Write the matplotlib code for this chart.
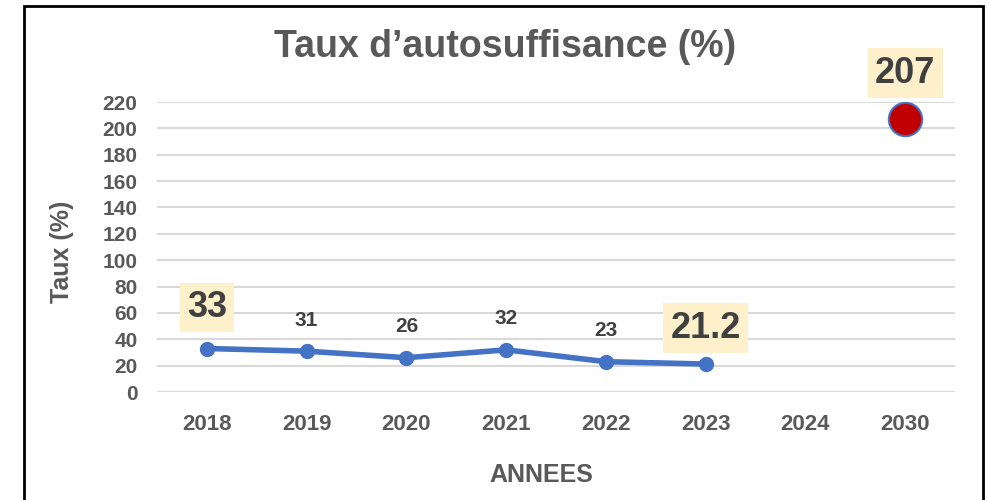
import matplotlib
matplotlib.use("Agg")
import matplotlib.pyplot as plt
from matplotlib.patches import Rectangle

categories = ["2018", "2019", "2020", "2021", "2022", "2023", "2024", "2030"]
hist_years = ["2018", "2019", "2020", "2021", "2022", "2023"]
hist_values = [33, 31, 26, 32, 23, 21.2]
target_year = "2030"
target_value = 207
hist_labels = ["33", "31", "26", "32", "23", "21.2"]
highlight = [True, False, False, False, False, True]
yticks = list(range(0, 221, 20))

FONT = ["Liberation Sans Narrow", "Liberation Sans", "DejaVu Sans"]
plt.rcParams["font.family"] = FONT
GREY = "#595959"
DARK = "#404040"
BOXC = "#FFF0CC"

fig = plt.figure(figsize=(9.89, 5.0), dpi=100)
ax = fig.add_axes([157/989, 1-392/500, (955-157)/989, 290/500])
ax.set_xlim(-0.5, len(categories)-0.5)
ax.set_ylim(0, 220)

xpos = {c: i for i, c in enumerate(categories)}
hx = [xpos[y] for y in hist_years]
ax.plot(hx, hist_values, color="#4472C4", lw=4, marker="o", ms=10, zorder=3,
        solid_capstyle="round")
ax.plot([xpos[target_year]], [target_value], marker="o", ms=24, color="#C00000",
        markeredgecolor="#4472C4", markeredgewidth=1.5, ls="none", zorder=4)

for x, v, lab, h in zip(hx, hist_values, hist_labels, highlight):
    if h:
        ax.annotate(lab, (x, v), xytext=(0, 41 if lab == "33" else 36), textcoords="offset pixels",
                    ha="center", va="center", fontsize=26, fontweight="bold", color=DARK,
                    bbox=dict(boxstyle="square,pad=0.2", fc=BOXC, ec="none"), zorder=5)
    else:
        ax.annotate(lab, (x, v), xytext=(0, 31), textcoords="offset pixels",
                    ha="center", va="center", fontsize=15, fontweight="bold", color=DARK, zorder=5)
ax.annotate(str(target_value), (xpos[target_year], target_value), xytext=(0, 46),
            textcoords="offset pixels", ha="center", va="center", fontsize=26,
            fontweight="bold", color=DARK,
            bbox=dict(boxstyle="square,pad=0.2", fc=BOXC, ec="none"), zorder=5,
            annotation_clip=False)

ax.set_yticks(yticks)
ax.set_xticks(range(len(categories)))
ax.set_xticklabels(categories)
ax.grid(axis="y", color="#D9D9D9", lw=1.5)
ax.set_axisbelow(True)
for s in ax.spines.values():
    s.set_visible(False)
ax.tick_params(length=0, labelcolor=GREY)
ax.tick_params(axis="x", pad=16, labelsize=16)
ax.tick_params(axis="y", pad=14, labelsize=15)
for t in ax.get_xticklabels() + ax.get_yticklabels():
    t.set_fontweight("bold")

fig.text(505/989, 1-47/500, "Taux d\u2019autosuffisance (%)", ha="center", va="center",
         fontsize=27, fontweight="bold", color=GREY)
fig.text(62/989, 1-252/500, "Taux (%)", ha="center", va="center", rotation=90,
         fontsize=18, fontweight="bold", color=GREY)
fig.text(541/989, 1-475/500, "ANNEES", ha="center", va="center",
         fontsize=18, fontweight="bold", color=GREY)

fig.patches.append(Rectangle((24/989, -0.05), (983-24)/989, 1.05-6/500,
                             transform=fig.transFigure, fill=False, ec="black", lw=2))

fig.savefig("out.png", dpi=100)
